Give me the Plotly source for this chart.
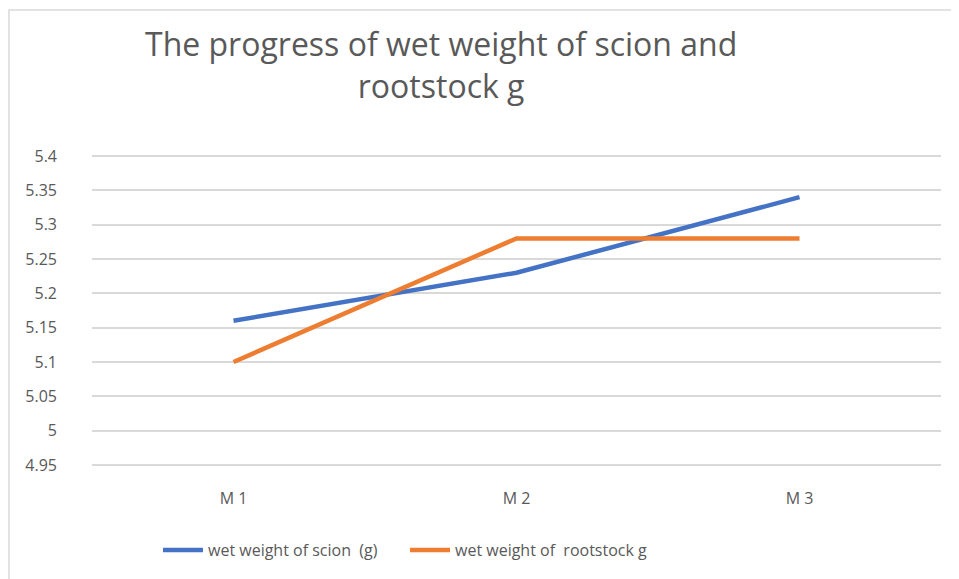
import plotly.graph_objects as go

categories = ["M 1", "M 2", "M 3"]
scion = [5.16, 5.23, 5.34]
rootstock = [5.10, 5.28, 5.28]
y_ticks = [4.95, 5.0, 5.05, 5.1, 5.15, 5.2, 5.25, 5.3, 5.35, 5.4]
y_tick_labels = ["4.95", "5", "5.05", "5.1", "5.15", "5.2", "5.25", "5.3", "5.35", "5.4"]

OFF = 8  # default body margin of the page
W, H = 959 - OFF, 579 - OFF
PAD = 3  # extra pixels so that the end gridlines get drawn
Y_TOP_PX, Y_BOT_PX = 156, 465
Y_MIN, Y_MAX = 4.95, 5.4
scale = (Y_BOT_PX - Y_TOP_PX) / (Y_MAX - Y_MIN)
L = 92 - OFF
R = W - (941 - OFF)
T = Y_TOP_PX - PAD - OFF
B = H - (Y_BOT_PX + PAD - OFF)
pw, ph = W - L - R, H - T - B

def px(x):
    return (x - OFF - L) / pw

def py(y):
    return 1 - (y - OFF - T) / ph

fig = go.Figure()
fig.add_trace(go.Scatter(x=categories, y=scion, mode="lines", name="wet weight of scion  (g)",
                         line=dict(color="#4472C4", width=4.5)))
fig.add_trace(go.Scatter(x=categories, y=rootstock, mode="lines", name="wet weight of  rootstock g",
                         line=dict(color="#ED7D31", width=4.5)))

font_fam = "Open Sans, Liberation Sans, sans-serif"

fig.update_layout(
    width=W, height=H,
    margin=dict(l=L, r=R, t=T, b=B),
    paper_bgcolor="white", plot_bgcolor="white",
    showlegend=True,
    legend=dict(orientation="h", x=px(158), xanchor="left", y=py(550), yanchor="middle",
                font=dict(family=font_fam, size=16, color="#595959"),
                itemwidth=40, entrywidth=192, tracegroupgap=0),
    xaxis=dict(range=[-0.5, 2.5], showgrid=False, zeroline=False, showline=False,
               ticks="", ticklabelstandoff=19,
               tickfont=dict(family=font_fam, size=16, color="#595959")),
    yaxis=dict(range=[Y_MIN - PAD / scale, Y_MAX + PAD / scale], tickvals=y_ticks, ticktext=y_tick_labels,
               showgrid=True, gridcolor="#D9D9D9", gridwidth=1.5, zeroline=False, showline=False,
               ticks="", ticklabelstandoff=34,
               tickfont=dict(family=font_fam, size=16, color="#595959")),
    shapes=[dict(type="rect", xref="paper", yref="paper",
                 x0=px(9), x1=px(990), y0=py(600), y1=py(10),
                 line=dict(color="#D9D9D9", width=1.5), fillcolor="rgba(0,0,0,0)", layer="below")],
    annotations=[
        dict(text="The progress of wet weight of scion and<br>rootstock g", xref="paper", yref="paper",
             x=px(441), y=py(64), xanchor="center", yanchor="middle", showarrow=False,
             font=dict(family=font_fam, size=32, color="#595959"))
    ],
)

fig.write_html("out.html")
